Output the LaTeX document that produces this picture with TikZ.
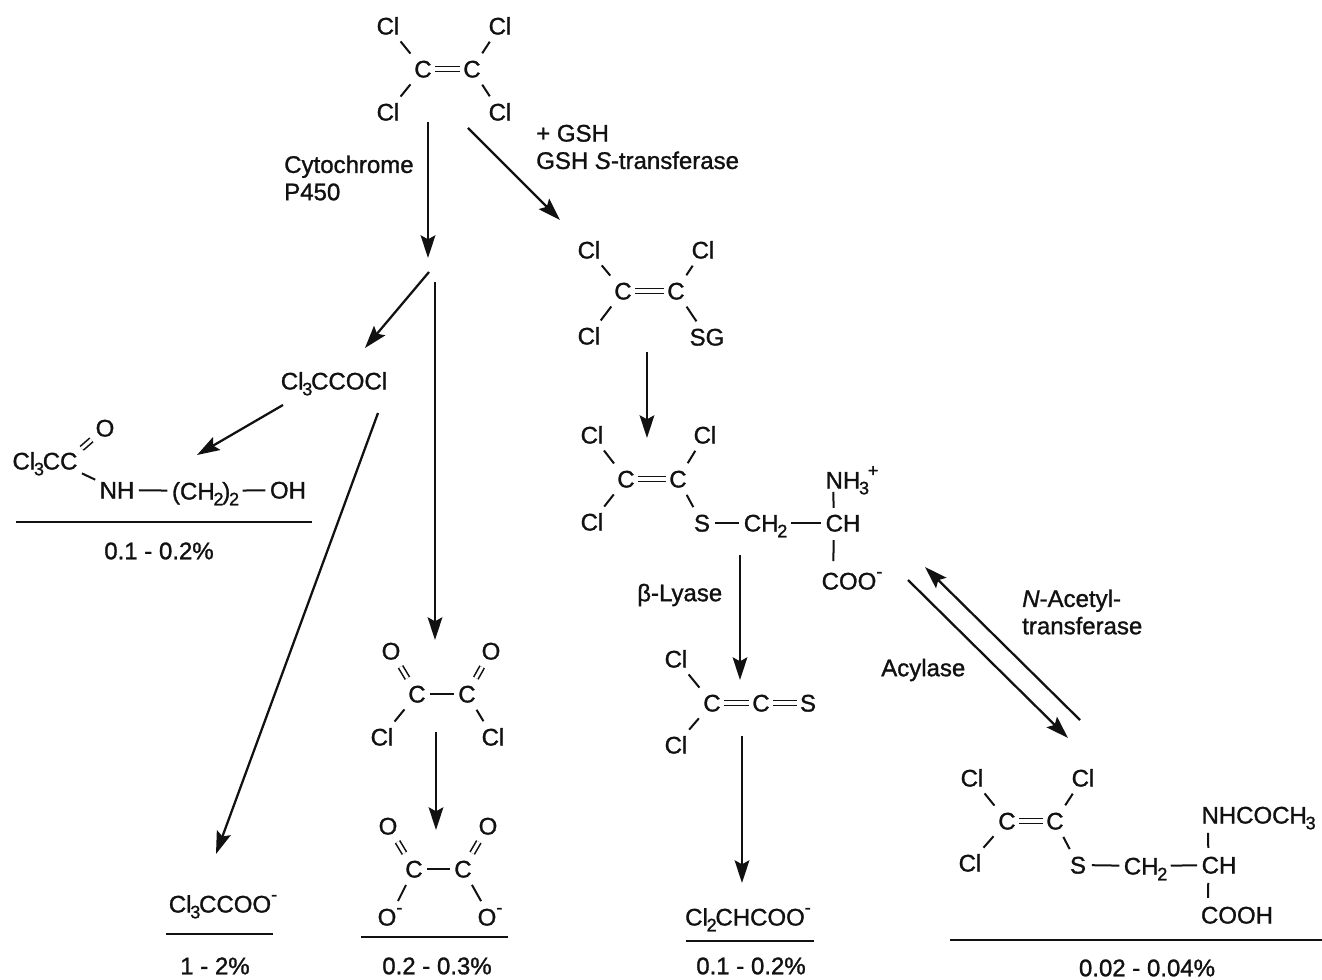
\documentclass[tikz,border=0pt]{standalone}
\usepackage{fontspec}
\setmainfont{Liberation Sans}[RawFeature={embolden=1.2}]
\usetikzlibrary{arrows.meta}
\newcommand\sbs[1]{\kern-.05em\raisebox{-.24em}{\fontsize{13.5}{13.5}\selectfont #1}\kern-.05em}
\newcommand\sps[1]{\raisebox{.5em}{\fontsize{13.5}{13.5}\selectfont #1}}
\definecolor{ink}{HTML}{111111}
\tikzset{
  x=0.75pt,y=-0.75pt,
  atom/.style={inner xsep=2.25pt,inner ysep=2.25pt,text height=12.8pt,text depth=0pt,anchor=center,text=ink,font=\fontsize{18}{20.5}\selectfont},
  lbl/.style={inner sep=0pt,align=left,anchor=west,text=ink,font=\fontsize{18}{20.5}\selectfont},
  pct/.style={inner sep=0pt,anchor=center,text=ink,font=\fontsize{18}{20.5}\selectfont},
  bond/.style={draw=ink,line width=1.5pt,shorten >=1pt,shorten <=1pt},
  dbond/.style={draw=ink,line width=1.5pt,shorten >=3.5pt,shorten <=3.5pt},
  dbl/.style={draw=ink,line width=1.2pt,double=white,double distance=2.4pt},
  ddbl/.style={dbl,shorten >=3.5pt,shorten <=3.5pt},
  rxn/.style={draw=ink,line width=1.7pt,-{Stealth[length=17pt,width=11pt,inset=3pt]}},
  rule/.style={draw=ink,line width=1.4pt},
}
\begin{document}
\begin{tikzpicture}
\useasboundingbox (0,0) rectangle (1322,980);
% top molecule
\node[atom] (a1) at (388,26) {Cl};
\node[atom] (a2) at (500,26) {Cl};
\node[atom] (a3) at (423,69) {C};
\node[atom] (a4) at (472,69) {C};
\node[atom] (a5) at (388,112) {Cl};
\node[atom] (a6) at (500,112) {Cl};
\draw[dbond] (a1)--(a3); \draw[dbond] (a2)--(a4); \draw[dbond] (a5)--(a3); \draw[dbond] (a6)--(a4);
\draw[dbl] (a3)--(a4);
\node[lbl] (l1) at (284,178) {Cytochrome\\P450};
\node[lbl] (l2) at (536,147) {+ GSH\\GSH \textit{S}-transferase};
\coordinate (p1) at (428,122); \coordinate (p2) at (428,258);
\draw[rxn] (p1)--(p2);
\coordinate (p3) at (468,128); \coordinate (p4) at (560,220);
\draw[rxn] (p3)--(p4);
% molecule 2
\node[atom] (b1) at (589,250) {Cl};
\node[atom] (b2) at (703,250) {Cl};
\node[atom] (b3) at (623,291) {C};
\node[atom] (b4) at (676,291) {C};
\node[atom] (b5) at (589,336) {Cl};
\node[atom] (b6) at (707,337) {SG};
\draw[dbond] (b1)--(b3); \draw[dbond] (b2)--(b4); \draw[dbond] (b5)--(b3); \draw[dbond] (b6)--(b4);
\draw[dbl] (b3)--(b4);
\coordinate (p5) at (647,352); \coordinate (p6) at (647,438);
\draw[rxn] (p5)--(p6);
% molecule 3
\node[atom] (c1) at (592,435) {Cl};
\node[atom] (c2) at (705,435) {Cl};
\node[atom] (c3) at (626,479) {C};
\node[atom] (c4) at (678,479) {C};
\node[atom] (c5) at (592,522) {Cl};
\node[atom] (c6) at (702,523) {S};
\node[atom] (c7) at (765,523) {CH\sbs{2}};
\node[atom] (c8) at (843,523) {CH};
\node[atom] (c9) at (852,480) {NH\sbs{3}\sps{+}};
\node[atom] (c10) at (852,581) {COO\sps{-}};
\draw[dbond] (c1)--(c3); \draw[dbond] (c2)--(c4); \draw[dbond] (c5)--(c3); \draw[dbond] (c6)--(c4);
\draw[dbl] (c3)--(c4);
\draw[bond] (c6)--(c7); \draw[bond] (c7)--(c8);
\draw[bond,shorten <=2.5pt,shorten >=0pt] ([xshift=-7pt]c8.north)--([xshift=-14pt]c9.south);
\draw[bond,shorten <=4pt,shorten >=6pt] ([xshift=-7pt]c8.south)--([xshift=-14pt]c10.north);
\coordinate (p7) at (740,555); \coordinate (p8) at (740,680);
\draw[rxn] (p7)--(p8);
\node[lbl] (l3) at (637,595) {β-Lyase};
% molecule 4
\node[atom] (d1) at (676,659) {Cl};
\node[atom] (d2) at (676,745) {Cl};
\node[atom] (d3) at (712,703) {C};
\node[atom] (d4) at (761,703) {C};
\node[atom] (d5) at (808,703) {S};
\draw[dbond] (d1)--(d3); \draw[dbond] (d2)--(d3);
\draw[dbl] (d3)--(d4); \draw[dbl] (d4)--(d5);
\coordinate (p9) at (742,736); \coordinate (p10) at (742,883);
\draw[rxn] (p9)--(p10);
\node[atom] (d6) at (748,917) {Cl\sbs{2}CHCOO\sps{-}};
\coordinate (r1) at (686,941); \coordinate (r2) at (814,941);
\draw[rule] (r1)--(r2);
\node[pct] (t1) at (751,966) {0.1 - 0.2\%};
% equilibrium
\coordinate (e1) at (1080,720); \coordinate (e2) at (925,567);
\draw[rxn] (e1)--(e2);
\coordinate (e3) at (908,580); \coordinate (e4) at (1068,738);
\draw[rxn] (e3)--(e4);
\node[lbl] (l4) at (1022,612) {\textit{N}-Acetyl-\\transferase};
\node[lbl] (l5) at (881,670) {Acylase};
% molecule 5
\node[atom] (f1) at (972,778) {Cl};
\node[atom] (f2) at (1083,778) {Cl};
\node[atom] (f3) at (1007,821) {C};
\node[atom] (f4) at (1055,821) {C};
\node[atom] (f5) at (970,863) {Cl};
\node[atom] (f6) at (1078,865) {S};
\node[atom] (f7) at (1145,866) {CH\sbs{2}};
\node[atom] (f8) at (1219,865) {CH};
\node[atom] (f9) at (1258,815) {NHCOCH\sbs{3}};
\node[atom] (f10) at (1237,915) {COOH};
\draw[dbond] (f1)--(f3); \draw[dbond] (f2)--(f4); \draw[dbond] (f5)--(f3); \draw[dbond] (f6)--(f4);
\draw[dbl] (f3)--(f4);
\draw[bond,shorten <=2pt] (f6)--(f7); \draw[bond] (f7)--(f8);
\draw[bond,shorten <=4pt,shorten >=4.5pt] ([xshift=-8pt]f8.north)--([xshift=-37.5pt]f9.south);
\draw[bond,shorten <=4.5pt,shorten >=4pt] ([xshift=-8pt]f8.south)--([xshift=-21.75pt]f10.north);
\coordinate (r3) at (950,940); \coordinate (r4) at (1322,940);
\draw[rule] (r3)--(r4);
\node[pct] (t2) at (1147,968) {0.02 - 0.04\%};
% left branch
\coordinate (q1) at (429,272); \coordinate (q2) at (365,348);
\draw[rxn] (q1)--(q2);
\coordinate (q3) at (435,282); \coordinate (q4) at (435,640);
\draw[rxn] (q3)--(q4);
\node[atom] (g1) at (334,381) {Cl\sbs{3}CCOCl};
\coordinate (q5) at (283,405); \coordinate (q6) at (197,455);
\draw[rxn] (q5)--(q6);
\coordinate (q7) at (378,413); \coordinate (q8) at (216,854);
\draw[rxn] (q7)--(q8);
\node[atom] (h1) at (45,461) {Cl\sbs{3}CC};
\node[atom] (h2) at (105,428) {O};
\node[atom] (h3) at (117,490) {NH};
\node[atom] (h4) at (205,491) {(CH\sbs{2})\sbs{2}};
\node[atom] (h5) at (288,490) {OH};
\draw[dbl,shorten >=1pt,shorten <=1pt] (h1.north east)--(h2);
\draw[bond] (h1.south east)--(h3);
\draw[bond] (h3)--(h4); \draw[bond] (h4)--(h5);
\coordinate (r5) at (16,522); \coordinate (r6) at (312,522);
\draw[rule] (r5)--(r6);
\node[pct] (t3) at (159,551) {0.1 - 0.2\%};
\node[atom] (i1) at (223,904) {Cl\sbs{3}CCOO\sps{-}};
\coordinate (r7) at (166,934); \coordinate (r8) at (273,934);
\draw[rule] (r7)--(r8);
\node[pct] (t4) at (215,966) {1 - 2\%};
% oxalyl chloride
\node[atom] (j1) at (391,651) {O};
\node[atom] (j2) at (491,651) {O};
\node[atom] (j3) at (417,694) {C};
\node[atom] (j4) at (467,694) {C};
\node[atom] (j5) at (382,737) {Cl};
\node[atom] (j6) at (493,737) {Cl};
\draw[ddbl] (j1)--(j3); \draw[ddbl] (j2)--(j4);
\draw[dbond] (j5)--(j3); \draw[dbond] (j6)--(j4);
\draw[bond] (j3)--(j4);
\coordinate (q9) at (436,732); \coordinate (q10) at (436,830);
\draw[rxn] (q9)--(q10);
% oxalate
\node[atom] (k1) at (388,826) {O};
\node[atom] (k2) at (488,826) {O};
\node[atom] (k3) at (414,869) {C};
\node[atom] (k4) at (463,869) {C};
\node[atom] (k5) at (390,917) {O\sps{-}};
\node[atom] (k6) at (490,917) {O\sps{-}};
\draw[ddbl] (k1)--(k3); \draw[ddbl] (k2)--(k4);
\draw[dbond] (k5)--(k3); \draw[dbond] (k6)--(k4);
\draw[bond] (k3)--(k4);
\coordinate (r9) at (361,937); \coordinate (r10) at (508,937);
\draw[rule] (r9)--(r10);
\node[pct] (t5) at (437,966) {0.2 - 0.3\%};
\end{tikzpicture}
\end{document}
